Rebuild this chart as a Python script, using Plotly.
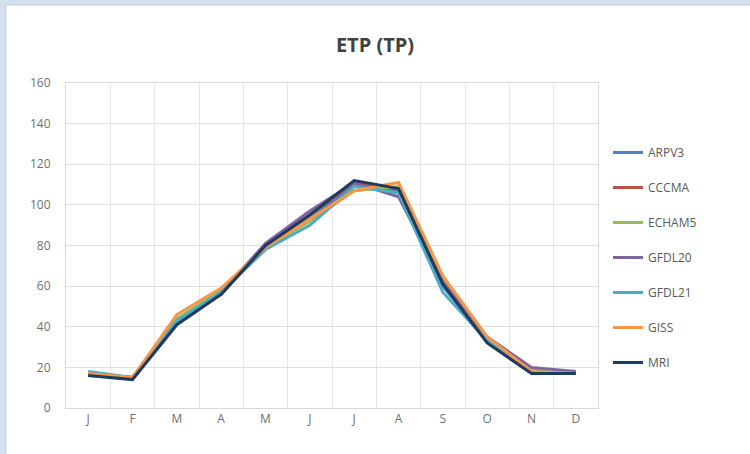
import plotly.graph_objects as go

months = ["J", "F", "M", "A", "M", "J", "J", "A", "S", "O", "N", "D"]
y_ticks = [0, 20, 40, 60, 80, 100, 120, 140, 160]

arpv3 = [16, 15, 42, 57, 80, 93, 110, 107, 60, 33, 18, 17]
cccma = [17, 15, 43, 56, 80, 95, 111, 106, 62, 34, 18, 18]
echam5 = [17, 15, 44, 58, 79, 92, 107, 109, 63, 34, 19, 18]
gfdl20 = [17, 15, 42, 57, 81, 97, 111, 104, 62, 35, 20, 18]
gfdl21 = [18, 15, 43, 57, 78, 90, 109, 106, 57, 33, 18, 17]
giss = [17, 15, 46, 59, 79, 93, 107, 111, 65, 35, 18, 17]
mri = [16, 14, 41, 56, 80, 95, 112, 108, 61, 32, 17, 17]

series = [
    ("ARPV3", arpv3, "#4F81BD"),
    ("CCCMA", cccma, "#C0504D"),
    ("ECHAM5", echam5, "#9BBB59"),
    ("GFDL20", gfdl20, "#8064A2"),
    ("GFDL21", gfdl21, "#4BACC6"),
    ("GISS", giss, "#F79646"),
    ("MRI", mri, "#1F3A5F"),
]

x_idx = list(range(len(months)))
fig = go.Figure()
for name, vals, col in series:
    fig.add_trace(go.Scatter(x=x_idx, y=vals, mode="lines", name=name,
                             legendgroup=name,
                             line=dict(color=col, width=3)))

font_family = "Open Sans, Liberation Sans, sans-serif"
L, R, T, B = 66, 598, 83, 408
W, H = 750, 454
pw, ph = R - L, B - T

def px(xp):
    return (xp - L) / pw

def py(yp):
    return (B - yp) / ph

fig.update_layout(
    width=W, height=H,
    margin=dict(l=L, r=W - R, t=T, b=H - B),
    paper_bgcolor="#d5e0ee",
    plot_bgcolor="white",
    font=dict(family=font_family, color="#595959", size=12),
    title=dict(text="<b>ETP (TP)</b>", x=0.5, xanchor="center",
               y=1 - 45 / H, yanchor="middle", yref="container",
               font=dict(size=20, color="#404040", family=font_family)),
    showlegend=True,
    legend=dict(x=px(608), xanchor="left", y=py(138), yanchor="top",
                font=dict(size=12, color="#595959"),
                tracegroupgap=16, bgcolor="rgba(0,0,0,0)"),
    shapes=[
        dict(type="rect", xref="paper", yref="paper", layer="below",
             x0=px(6), x1=px(760), y0=py(5), y1=py(470),
             fillcolor="white", line=dict(color="#c8ccd2", width=1)),
    ],
)

fig.update_xaxes(
    range=[-0.5, 11.5],
    tickmode="array", tickvals=x_idx, ticktext=months,
    showgrid=False, ticks="", zeroline=False,
    showline=True, linecolor="#d9d9d9", linewidth=1, mirror=True,
    minor=dict(tick0=-0.5, dtick=1, showgrid=True, gridcolor="#e6e6e6", gridwidth=1, ticks=""),
    tickfont=dict(size=12, color="#6f6f6f"),
    fixedrange=True,
)
fig.update_yaxes(
    range=[0, 160],
    tickmode="array", tickvals=y_ticks,
    showgrid=True, gridcolor="#e0e0e0", gridwidth=1,
    zeroline=False, ticks="",
    showline=True, linecolor="#d9d9d9", linewidth=1, mirror=True,
    tickfont=dict(size=12, color="#6f6f6f"),
    ticklabelstandoff=12,
    fixedrange=True,
)

fig.write_html("out.html")
